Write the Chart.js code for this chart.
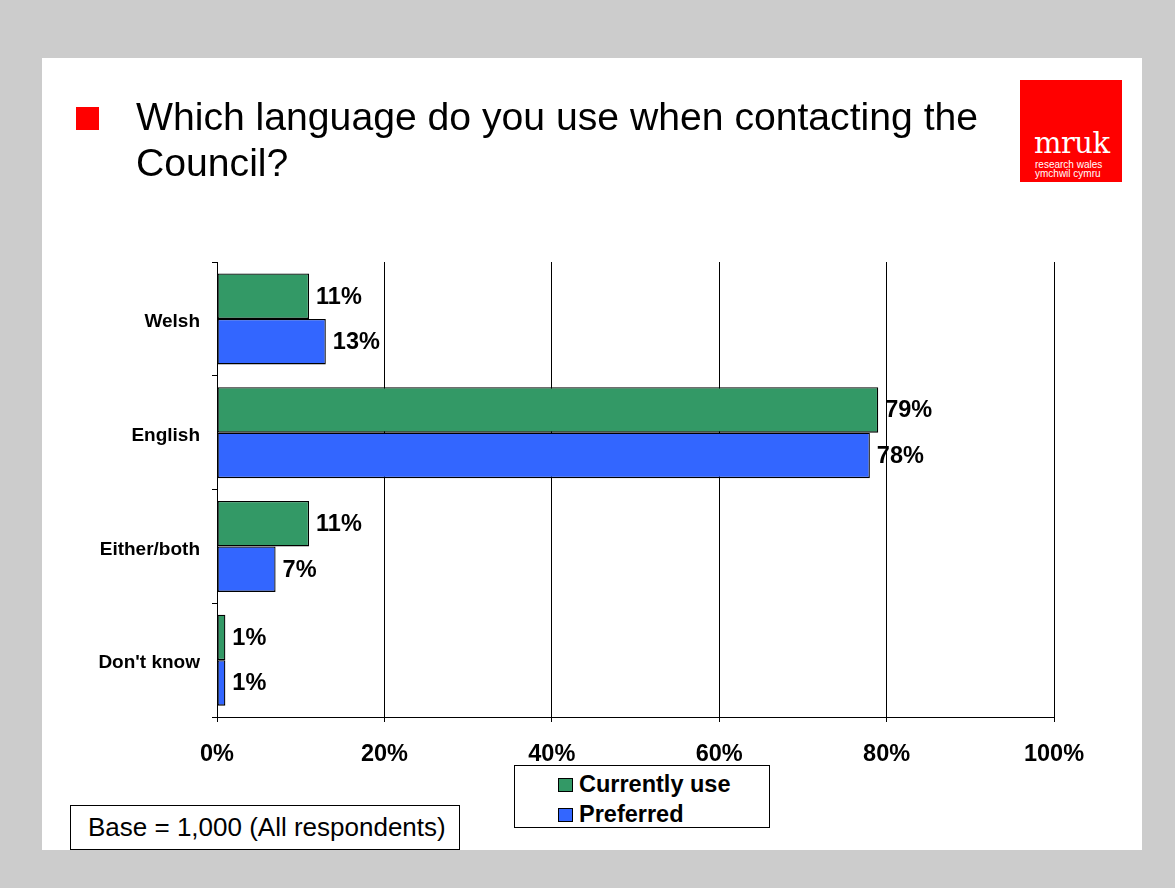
<!DOCTYPE html>
<html>
<head>
<meta charset="utf-8">
<title>Language used when contacting the Council</title>
<script src="https://cdn.jsdelivr.net/npm/chart.js@4/dist/chart.umd.min.js"></script>
<style>
  body { margin: 0; background: #cccccc; font-family: "Liberation Sans", Arial, sans-serif; }
  #panel { position: absolute; left: 42px; top: 58px; width: 1100px; height: 792px; background: #ffffff; }
  #chart { position: absolute; left: 0; top: 0; }
  #bullet { position: absolute; left: 76px; top: 107px; width: 23px; height: 23px; background: #ff0000; }
  #title { position: absolute; left: 136px; top: 94px; font-size: 38px; line-height: 46px; color: #000; transform: scaleX(1.03); transform-origin: left top; }
  #logo { position: absolute; left: 1020px; top: 80px; width: 102px; height: 102px; background: #ff0000; color: #fff; }
  #logo .big { position: absolute; left: 14px; top: 48px; font-family: "DejaVu Serif", serif; font-size: 29px; line-height: 30px; letter-spacing: -0.5px; }
  #logo .small { position: absolute; left: 15px; top: 80px; font-size: 10px; line-height: 9px; }
  #legend { position: absolute; left: 514px; top: 765px; width: 254px; height: 61px; border: 1px solid #000; background: #fff; }
  #legend .item { position: absolute; left: 43px; font-weight: bold; font-size: 23.5px; line-height: 26px; }
  #legend .swatch { display: inline-block; width: 13px; height: 12px; border: 1px solid #000; margin-right: 6px; }
  #base { position: absolute; left: 70px; top: 805px; width: 390px; height: 45px; border: 1px solid #000; background: #fff; font-size: 26px; line-height: 43px; padding-left: 17px; box-sizing: border-box; }
</style>
</head>
<body>
<div id="panel"></div>
<canvas id="chart" width="1175" height="888"></canvas>
<div id="bullet"></div>
<div id="title">Which language do you use when contacting the<br>Council?</div>
<div id="logo">
  <div class="big">mruk</div>
  <div class="small">research wales<br>ymchwil cymru</div>
</div>
<div id="legend"></div>
<div id="base">Base = 1,000 (All respondents)</div>
<script>
const categories = ['Welsh', 'English', 'Either/both', "Don't know"];
const currentlyUse = [11, 79, 11, 1];
const preferred = [13, 78, 7, 1];
const seriesNames = ['Currently use', 'Preferred'];
const seriesColors = ['#339966', '#3366ff'];
const xTicks = [0, 20, 40, 60, 80, 100];

Chart.defaults.font.family = '"Liberation Sans", Arial, sans-serif';
Chart.defaults.color = '#000';

// value labels to the right of every bar
const barLabels = {
    id: 'barLabels',
    afterDatasetsDraw(chart) {
        const ctx = chart.ctx;
        ctx.save();
        ctx.font = 'bold 23.5px "Liberation Sans", Arial, sans-serif';
        ctx.fillStyle = '#000';
        ctx.textAlign = 'left';
        ctx.textBaseline = 'middle';
        chart.data.datasets.forEach((ds, i) => {
            chart.getDatasetMeta(i).data.forEach((bar, j) => {
                ctx.fillText(ds.data[j] + '%', bar.x + 7, bar.y + 1);
            });
        });
        ctx.restore();
    }
};

new Chart(document.getElementById('chart'), {
    type: 'bar',
    data: {
        labels: categories,
        datasets: [{
            label: seriesNames[0],
            data: currentlyUse,
            backgroundColor: seriesColors[0],
            borderColor: '#000',
            borderWidth: 1.3,
            borderSkipped: false
        }, {
            label: seriesNames[1],
            data: preferred,
            backgroundColor: seriesColors[1],
            borderColor: '#000',
            borderWidth: 1.3,
            borderSkipped: false
        }]
    },
    options: {
        indexAxis: 'y',
        responsive: false,
        animation: false,
        devicePixelRatio: 1,
        categoryPercentage: 0.8,
        barPercentage: 1.0,
        layout: { padding: { top: 262, right: 121, left: 0, bottom: 0 } },
        plugins: {
            legend: { display: false },
            tooltip: { enabled: false }
        },
        scales: {
            x: {
                min: 0,
                max: 100,
                afterBuildTicks: (scale) => { scale.ticks = xTicks.map(v => ({ value: v })); },
                afterFit: (scale) => { scale.height = 171; },
                grid: { color: '#000', lineWidth: 1, tickLength: 5 },
                border: { color: '#000', width: 1 },
                ticks: {
                    padding: 18,
                    font: { size: 23.5, weight: 'bold' },
                    callback: (v) => v + '%'
                }
            },
            y: {
                afterFit: (scale) => { scale.width = 217; },
                grid: { color: '#000', drawOnChartArea: false, tickLength: 5, offset: true },
                border: { color: '#000', width: 1 },
                ticks: {
                    padding: 12,
                    labelOffset: 3,
                    font: { size: 19, weight: 'bold' }
                }
            }
        }
    },
    plugins: [barLabels]
});

// legend box built from the series names and colours
const legend = document.getElementById('legend');
seriesNames.forEach((name, i) => {
    const item = document.createElement('div');
    item.className = 'item';
    item.style.top = (5 + i * 30) + 'px';
    item.innerHTML = '<span class="swatch" style="background:' + seriesColors[i] + '"></span>' + name;
    legend.appendChild(item);
});
</script>
</body>
</html>
